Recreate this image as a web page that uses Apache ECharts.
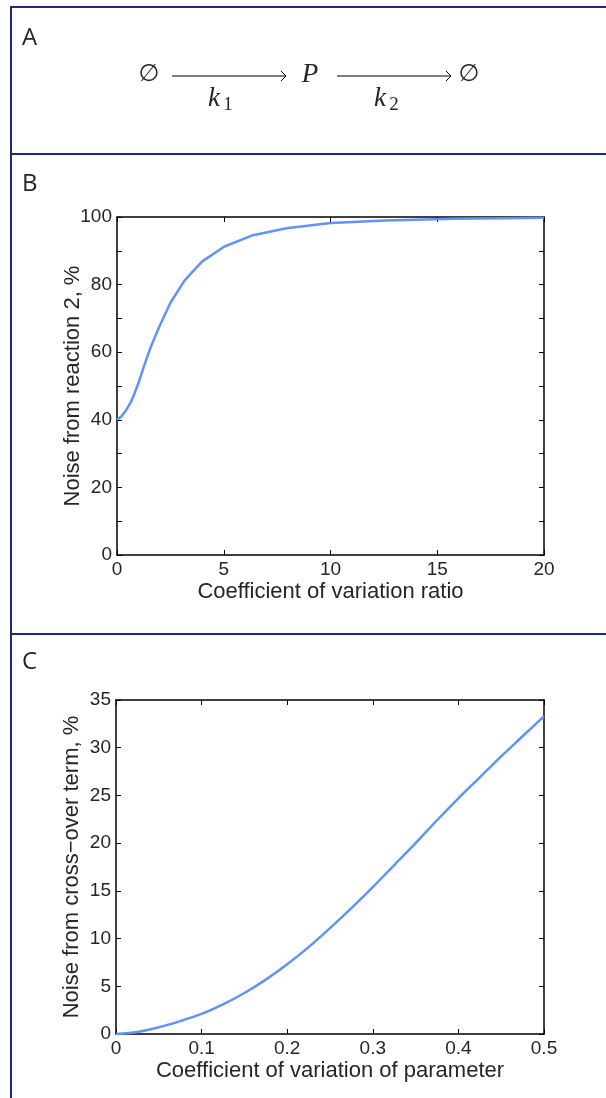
<!DOCTYPE html>
<html>
<head>
<meta charset="utf-8">
<script src="https://cdn.jsdelivr.net/npm/echarts@6/dist/echarts.min.js"></script>
<style>
html, body { margin: 0; padding: 0; background: #fff; }
#chart { width: 606px; height: 1098px; }
</style>
</head>
<body>
<div id="chart"></div>
<script>
// panel B: share of noise from reaction 2 vs CV ratio
const ratioX = [0, 0.2, 0.4, 0.63, 0.79, 1.0, 1.26, 1.58, 2.0, 2.51, 3.16, 3.98, 5.01, 6.31, 7.94, 10.0, 12.59, 15.85, 20.0];
const reaction2Noise = [40.0, 41.0, 42.6, 45.0, 47.3, 50.8, 55.8, 61.5, 67.8, 74.7, 81.2, 86.8, 91.2, 94.5, 96.7, 98.2, 99.0, 99.5, 99.8];
const ticksBx = [0, 5, 10, 15, 20];
const ticksBy = [0, 20, 40, 60, 80, 100];

// panel C: cross-over term vs CV of parameter
const cvParam = [0, 0.025, 0.05, 0.075, 0.1, 0.125, 0.15, 0.175, 0.2, 0.225, 0.25, 0.275, 0.3, 0.325, 0.35, 0.375, 0.4, 0.425, 0.45, 0.475, 0.5];
const crossNoise = [0, 0.2, 0.7, 1.35, 2.1, 3.1, 4.3, 5.7, 7.3, 9.1, 11.1, 13.2, 15.4, 17.7, 20.0, 22.4, 24.7, 26.9, 29.1, 31.2, 33.3];
const ticksCx = [0, 0.1, 0.2, 0.3, 0.4, 0.5];
const ticksCy = [0, 5, 10, 15, 20, 25, 30, 35];

let mychart = echarts.init(document.getElementById("chart"));

const ink = "#262626";
const frame = "#1d2a7c";
const curve = "#5f93f7";
const font = "Liberation Sans";

function axisBase(ticks, step) {
  return {
    type: "value",
    min: ticks[0],
    max: ticks[ticks.length - 1],
    interval: step,
    splitLine: { show: false },
    axisLine: { show: true, onZero: false, lineStyle: { color: "#000", width: 1.5 } },
    axisTick: { show: true, inside: true, length: 5, lineStyle: { color: "#000", width: 1 } },
  };
}

function mainAxis(ticks, step, gridIndex, name, gap) {
  return Object.assign(axisBase(ticks, step), {
    gridIndex: gridIndex,
    name: name,
    nameLocation: "middle",
    nameGap: gap,
    nameMoveOverlap: false,
    nameTextStyle: { color: ink, fontFamily: font, fontSize: 22 },
    axisLabel: {
      color: ink, fontFamily: font, fontSize: 19, margin: 5,
      formatter: (v) => {
        let hit = ticks.find((t) => Math.abs(t - v) < 1e-9);
        return hit === undefined ? "" : String(hit);
      },
    },
  });
}

function mirrorAxis(ticks, step, gridIndex, pos) {
  return Object.assign(axisBase(ticks, step), {
    gridIndex: gridIndex,
    position: pos,
    axisLabel: { show: false },
  });
}

function pairs(xs, ys) {
  return xs.map((x, i) => [x, ys[i]]);
}

const arrowHead = (x, y) => ({
  type: "polyline",
  shape: { points: [[x - 6, y - 5], [x - 1, y], [x - 6, y + 5]] },
  style: { stroke: "#000", lineWidth: 1, fill: null },
});

mychart.setOption({
  animation: false,
  grid: [
    { left: 117, top: 217, width: 427, height: 338 },
    { left: 116, top: 700, width: 428, height: 334 },
  ],
  xAxis: [
    mainAxis(ticksBx, 5, 0, "Coefficient of variation ratio", 26),
    mirrorAxis(ticksBx, 5, 0, "top"),
    mainAxis(ticksCx, 0.1, 1, "Coefficient of variation of parameter", 26),
    mirrorAxis(ticksCx, 0.1, 1, "top"),
  ],
  yAxis: [
    mainAxis(ticksBy, 10, 0, "Noise from reaction 2, %", 33),
    mirrorAxis(ticksBy, 10, 0, "right"),
    mainAxis(ticksCy, 5, 1, "Noise from cross\u2212over term, %", 33),
    mirrorAxis(ticksCy, 5, 1, "right"),
  ],
  series: [
    {
      type: "line",
      xAxisIndex: 0,
      yAxisIndex: 0,
      data: pairs(ratioX, reaction2Noise),
      showSymbol: false,
      lineStyle: { color: curve, width: 2.5 },
    },
    {
      type: "line",
      xAxisIndex: 2,
      yAxisIndex: 2,
      data: pairs(cvParam, crossNoise),
      smooth: 0.3,
      showSymbol: false,
      lineStyle: { color: curve, width: 2.5 },
    },
  ],
  graphic: [
    // panel frames
    { type: "line", shape: { x1: 11, y1: 7, x2: 606, y2: 7 }, style: { stroke: frame, lineWidth: 2 } },
    { type: "line", shape: { x1: 11, y1: 6, x2: 11, y2: 1098 }, style: { stroke: frame, lineWidth: 2 } },
    { type: "line", shape: { x1: 11, y1: 154, x2: 606, y2: 154 }, style: { stroke: frame, lineWidth: 2 } },
    { type: "line", shape: { x1: 11, y1: 634, x2: 606, y2: 634 }, style: { stroke: frame, lineWidth: 2 } },
    // panel letters
    { type: "text", x: 22, y: 26, style: { text: "A", font: "24px Open Sans", fill: ink } },
    { type: "text", x: 22, y: 172, style: { text: "B", font: "24px Open Sans", fill: ink } },
    { type: "text", x: 22, y: 650, style: { text: "C", font: "24px Open Sans", fill: ink } },
    // reaction scheme
    { type: "text", x: 149, y: 75, style: { text: "\u2205", font: "24px DejaVu Sans", fill: ink, align: "center", verticalAlign: "middle" } },
    { type: "line", shape: { x1: 172, y1: 76, x2: 286, y2: 76 }, style: { stroke: "#000", lineWidth: 1 } },
    arrowHead(287, 76),
    { type: "text", x: 214, y: 99, style: { text: "k", font: "italic 27px Liberation Serif", fill: ink, align: "center", verticalAlign: "middle" } },
    { type: "text", x: 228, y: 105, style: { text: "1", font: "19px Liberation Serif", fill: ink, align: "center", verticalAlign: "middle" } },
    { type: "text", x: 310, y: 75, style: { text: "P", font: "italic 27px Liberation Serif", fill: ink, align: "center", verticalAlign: "middle" } },
    { type: "line", shape: { x1: 337, y1: 76, x2: 451, y2: 76 }, style: { stroke: "#000", lineWidth: 1 } },
    arrowHead(452, 76),
    { type: "text", x: 380, y: 99, style: { text: "k", font: "italic 27px Liberation Serif", fill: ink, align: "center", verticalAlign: "middle" } },
    { type: "text", x: 394, y: 105, style: { text: "2", font: "19px Liberation Serif", fill: ink, align: "center", verticalAlign: "middle" } },
    { type: "text", x: 469, y: 75, style: { text: "\u2205", font: "24px DejaVu Sans", fill: ink, align: "center", verticalAlign: "middle" } },
  ],
});
</script>
</body>
</html>
